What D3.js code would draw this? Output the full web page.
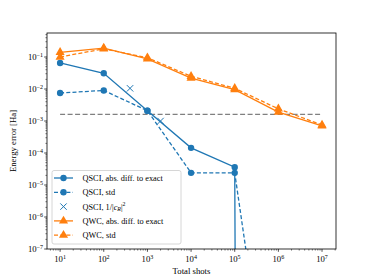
<!DOCTYPE html>
<html>
<head>
<meta charset="utf-8">
<script src="https://cdn.jsdelivr.net/npm/d3@7"></script>
<style>
  body { margin: 0; background: #fff; }
  svg { display: block; font-family: "Liberation Serif", "DejaVu Serif", serif; }
</style>
</head>
<body>
<svg id="chart" width="374" height="280"></svg>
<script>
// Data
const shots = [1e1, 1e2, 1e3, 1e4, 1e5, 1e6, 1e7];
const qsciAbs = [0.065, 0.031, 2.1e-3, 1.45e-4, 3.6e-5, 0, 0];
const qsciStd = [7.5e-3, 9.0e-3, 2.1e-3, 2.4e-5, 2.4e-5, 1e-14, 1e-15];
const qsciCrShots = [400, 2000];
const qsciCr = [0.0105, 1.0e-3];
const qwcAbs = [0.14, 0.19, 0.087, 0.022, 0.0095, 1.9e-3, 7.0e-4];
const qwcStd = [0.10, 0.18, 0.095, 0.025, 0.0105, 2.4e-3, 7.5e-4];
const chemAcc = 1.6e-3;
const xTicks = [1, 2, 3, 4, 5, 6, 7];
const yTicks = [-1, -2, -3, -4, -5, -6, -7];

const blue = "#1f77b4", orange = "#ff7f0e";

const svg = d3.select("#chart");
const margin = { top: 33, right: 38, bottom: 31, left: 47 };
const width = 374, height = 280;

const x = d3.scaleLog()
    .domain([Math.pow(10, 0.7), Math.pow(10, 7.32)])
    .range([margin.left, width - margin.right]);
const y = d3.scaleLog()
    .domain([1e-7, Math.pow(10, -0.25)])
    .range([height - margin.bottom, margin.top]);

// matplotlib clips non-positive values to a tiny number
const yv = v => v > 0 ? y(v) : y(1e-300);

svg.append("defs").append("clipPath").attr("id", "clip")
    .append("rect")
    .attr("x", margin.left).attr("y", margin.top)
    .attr("width", width - margin.left - margin.right)
    .attr("height", height - margin.top - margin.bottom);

// axes ticks
function minorTicks(lo, hi) {
    const t = [];
    for (let e = lo; e <= hi; e++) for (let m = 2; m <= 9; m++) t.push(m * Math.pow(10, e));
    return t;
}
const xMinor = minorTicks(0, 7).filter(v => v >= x.domain()[0] && v <= x.domain()[1]);
const yMinor = minorTicks(-7, -1).filter(v => v >= y.domain()[0] && v <= y.domain()[1]);

const gx = svg.append("g").attr("transform", `translate(0,${height - margin.bottom})`);
gx.selectAll(".minor").data(xMinor).enter().append("line")
    .attr("x1", d => x(d)).attr("x2", d => x(d)).attr("y1", 0).attr("y2", 1.6)
    .attr("stroke", "#000").attr("stroke-width", 0.5);
gx.selectAll(".major").data(xTicks).enter().append("line")
    .attr("x1", d => x(Math.pow(10, d))).attr("x2", d => x(Math.pow(10, d)))
    .attr("y1", 0).attr("y2", 2.8).attr("stroke", "#000").attr("stroke-width", 0.7);
const xl = gx.selectAll(".lbl").data(xTicks).enter().append("text")
    .attr("x", d => x(Math.pow(10, d))).attr("y", 13)
    .attr("text-anchor", "middle").attr("font-size", 8.7);
xl.append("tspan").text("10");
xl.append("tspan").attr("dy", -3.5).attr("font-size", 6).text(d => d);

const gy = svg.append("g").attr("transform", `translate(${margin.left},0)`);
gy.selectAll(".minor").data(yMinor).enter().append("line")
    .attr("x1", 0).attr("x2", -1.6).attr("y1", d => y(d)).attr("y2", d => y(d))
    .attr("stroke", "#000").attr("stroke-width", 0.5);
gy.selectAll(".major").data(yTicks).enter().append("line")
    .attr("x1", 0).attr("x2", -2.8)
    .attr("y1", d => y(Math.pow(10, d))).attr("y2", d => y(Math.pow(10, d)))
    .attr("stroke", "#000").attr("stroke-width", 0.7);
const yl = gy.selectAll(".lbl").data(yTicks).enter().append("text")
    .attr("x", -4).attr("y", d => y(Math.pow(10, d)) + 3)
    .attr("text-anchor", "end").attr("font-size", 8.7);
yl.append("tspan").text("10");
yl.append("tspan").attr("dy", -3.5).attr("font-size", 6).text(d => "\u2212" + (-d));

// axis labels
svg.append("text").attr("x", (margin.left + width - margin.right) / 2).attr("y", 274)
    .attr("text-anchor", "middle").attr("font-size", 8.7).text("Total shots");
svg.append("text")
    .attr("transform", `translate(16,${(margin.top + height - margin.bottom) / 2}) rotate(-90)`)
    .attr("text-anchor", "middle").attr("font-size", 8.7).text("Energy error [Ha]");

// plot area
const plot = svg.append("g").attr("clip-path", "url(#clip)");

plot.append("line")
    .attr("x1", x(1e1)).attr("x2", x(1e7)).attr("y1", y(chemAcc)).attr("y2", y(chemAcc))
    .attr("stroke", "#808080").attr("stroke-width", 1.3).attr("stroke-dasharray", "5,2.5");

const line = d3.line().x((d, i) => x(shots[i])).y(d => yv(d));

const series = [
    { data: qsciAbs, color: blue, dash: null, marker: "circle" },
    { data: qsciStd, color: blue, dash: "4,2.2", marker: "circle" },
    { data: qwcAbs, color: orange, dash: null, marker: "triangle" },
    { data: qwcStd, color: orange, dash: "4,2.2", marker: "triangle" }
];

const circleSym = d3.symbol().type(d3.symbolCircle).size(32);
const triSym = d3.symbol().type(d3.symbolTriangle).size(36);
const crossPath = "M-3.2,-3.2L3.2,3.2M-3.2,3.2L3.2,-3.2";

series.forEach(s => {
    plot.append("path").datum(s.data)
        .attr("fill", "none").attr("stroke", s.color).attr("stroke-width", 1.3)
        .attr("stroke-dasharray", s.dash).attr("d", line);
    plot.selectAll(null).data(s.data.map((v, i) => [shots[i], v]).filter(d => d[1] > 0)).enter()
        .append("path")
        .attr("transform", d => `translate(${x(d[0])},${y(d[1])})`)
        .attr("d", s.marker === "circle" ? circleSym() : triSym())
        .attr("fill", s.color);
});

// cross markers
plot.selectAll(".cr").data(qsciCr).enter().append("path")
    .attr("transform", (d, i) => `translate(${x(qsciCrShots[i])},${y(d)})`)
    .attr("d", crossPath)
    .attr("stroke", blue).attr("stroke-width", 1);

// frame
svg.append("rect")
    .attr("x", margin.left).attr("y", margin.top)
    .attr("width", width - margin.left - margin.right)
    .attr("height", height - margin.top - margin.bottom)
    .attr("fill", "none").attr("stroke", "#000").attr("stroke-width", 0.8);

// legend
const legendItems = [
    { label: "QSCI, abs. diff. to exact", color: blue, dash: null, marker: "circle" },
    { label: "QSCI, std", color: blue, dash: "4,2.2", marker: "circle" },
    { label: "QSCI, cr", color: blue, dash: null, marker: "x" },
    { label: "QWC, abs. diff. to exact", color: orange, dash: null, marker: "triangle" },
    { label: "QWC, std", color: orange, dash: "4,2.2", marker: "triangle" }
];
const lg = svg.append("g");
lg.append("rect").attr("x", 52).attr("y", 170.5).attr("width", 129).attr("height", 73.5)
    .attr("rx", 2).attr("fill", "#fff").attr("fill-opacity", 0.8)
    .attr("stroke", "#cccccc").attr("stroke-width", 0.8);
legendItems.forEach((it, i) => {
    const cy = 178 + i * 14.3;
    const g = lg.append("g");
    if (it.marker === "x") {
        g.append("path").attr("transform", `translate(63.5,${cy})`)
            .attr("d", crossPath)
            .attr("stroke", it.color).attr("stroke-width", 1);
    } else {
        g.append("line").attr("x1", 54).attr("x2", 73).attr("y1", cy).attr("y2", cy)
            .attr("stroke", it.color).attr("stroke-width", 1.3).attr("stroke-dasharray", it.dash);
        g.append("path").attr("transform", `translate(63.5,${cy})`)
            .attr("d", it.marker === "circle" ? circleSym() : triSym()).attr("fill", it.color);
    }
    const t = g.append("text").attr("x", 82.5).attr("y", cy + 3).attr("font-size", 8.3);
    if (it.marker === "x") {
        t.append("tspan").text("QSCI, 1/|");
        t.append("tspan").attr("font-style", "italic").text("c");
        t.append("tspan").attr("dy", 1.5).attr("font-size", 5.8).attr("font-style", "italic").text("R");
        t.append("tspan").attr("dy", -1.5).text("|");
        t.append("tspan").attr("dy", -3.5).attr("font-size", 5.8).text("2");
    } else {
        t.text(it.label);
    }
});
</script>
</body>
</html>
